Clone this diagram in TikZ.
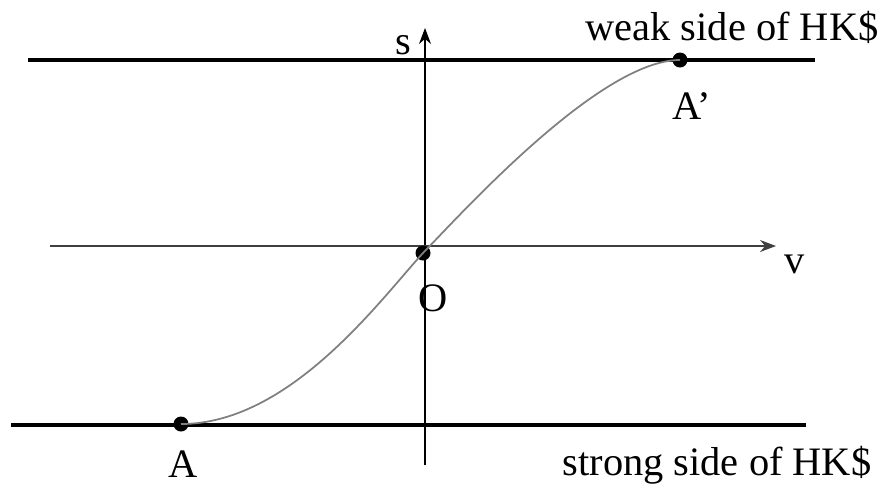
\documentclass[tikz,border=0pt]{standalone}
\usepackage{fontspec}
\setmainfont{Liberation Serif}
\usetikzlibrary{arrows.meta}

\begin{document}
\begin{tikzpicture}[
    x=0.02cm, y=-0.02cm,
    >={Stealth[length=3.2mm, width=2.4mm]},
    band/.style={line width=2.4pt},
    axis/.style={->, line width=0.6pt},
    dot/.style={circle, fill=black, inner sep=0pt, minimum size=3mm},
    lbl/.style={font=\fontsize{23}{26}\selectfont, inner sep=0pt},
  ]
    \useasboundingbox (0,0) rectangle (886,488);
    % bands
    \coordinate (wl) at (28,60);   \coordinate (wr) at (815,60);
    \coordinate (sl) at (11,425);  \coordinate (sr) at (806,425);
    \draw[band] (wl) -- (wr);
    \draw[band] (sl) -- (sr);
    % axes
    \coordinate (vb) at (425,465); \coordinate (vt) at (425,28);
    \coordinate (hl) at (50,246);  \coordinate (hr) at (776,246);
    \draw[axis] (vb) -- (vt);
    \draw[axis, black!75] (hl) -- (hr);
    % points
    \node[dot] (A)  at (181,424) {};
    \node[dot] (O)  at (423,253) {};
    \node[dot] (Ap) at (680,60)  {};
    \draw[gray, line width=1pt] (A.center) .. controls (290,424) and (380,300) .. (O.center)
        .. controls (462,213) and (600,60) .. (Ap.center);
    % labels
    \node[lbl] (s)  at (403,45)  {s};
    \node[lbl] (v)  at (795,264) {v};
    \node[lbl] (o)  at (433,298) {O};
    \node[lbl] (a)  at (183,464) {A};
    \node[lbl] (ap) at (692,106) {A’};
    \node[lbl] (weak)   at (732,27)  {weak side of HK\$};
    \node[lbl] (strong) at (717,465) {strong side of HK\$};
\end{tikzpicture}
\end{document}
